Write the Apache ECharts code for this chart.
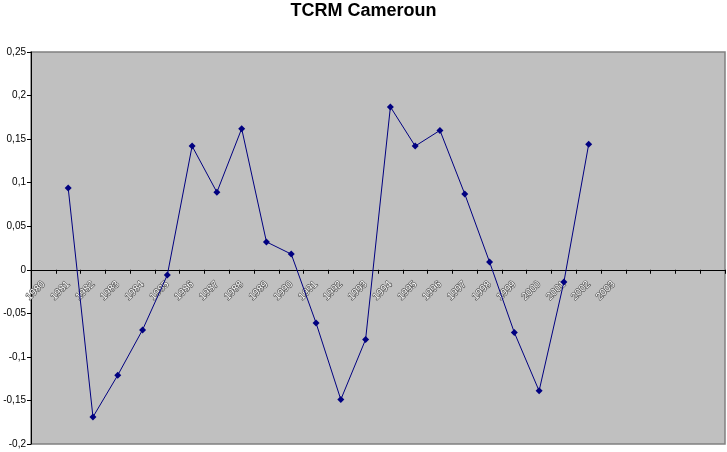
<!DOCTYPE html>
<html>
<head>
<meta charset="utf-8">
<script src="https://cdn.jsdelivr.net/npm/echarts@6/dist/echarts.min.js"></script>
<style>
html,body{margin:0;padding:0;background:#fff;}
#chart{width:727px;height:452px;}
</style>
</head>
<body>
<div id="chart"></div>
<script>
var categories = ['1980','1981','1982','1983','1984','1985','1986','1987','1988','1989','1990','1991','1992','1993','1994','1995','1996','1997','1998','1999','2000','2001','2002','2003','','','',''];
var tcrm = [null, 0.094, -0.169, -0.121, -0.069, -0.006, 0.142, 0.089, 0.162, 0.032, 0.018, -0.061, -0.149, -0.080, 0.187, 0.142, 0.160, 0.087, 0.009, -0.072, -0.139, -0.014, 0.144];
var yTicks = { min: -0.2, max: 0.25, interval: 0.05 };

var gridTop = 52, gridHeight = 392;
var zeroOffset = -gridHeight * (0 - yTicks.min) / (yTicks.max - yTicks.min);

var chart = echarts.init(document.getElementById('chart'));
chart.setOption({
  animation: false,
  backgroundColor: '#ffffff',
  title: {
    text: 'TCRM Cameroun',
    left: 'center',
    top: -3,
    textStyle: { fontFamily: 'Liberation Sans', fontWeight: 'bold', fontSize: 18, color: '#000' }
  },
  grid: {
    left: 31, top: gridTop, width: 694, height: gridHeight,
    show: true, backgroundColor: '#c0c0c0', borderColor: '#808080', borderWidth: 1.5,
    containLabel: false,
    outerBoundsMode: 'none'
  },
  xAxis: {
    type: 'category',
    data: categories,
    boundaryGap: true,
    position: 'bottom',
    offset: zeroOffset,
    axisLine: { onZero: false, lineStyle: { color: '#000', width: 1 } },
    axisTick: { show: true, interval: 0, length: 4, inside: false, lineStyle: { color: '#000' } },
    axisLabel: {
      interval: 0, rotate: 45, margin: 13,
      fontFamily: 'Liberation Sans', fontSize: 10,
      color: '#ffffff', textBorderColor: '#4a4a4a', textBorderWidth: 1.2
    },
    splitLine: { show: false }
  },
  yAxis: {
    type: 'value',
    min: yTicks.min, max: yTicks.max, interval: yTicks.interval,
    axisLine: { show: true, lineStyle: { color: '#000', width: 1 } },
    axisTick: { show: true, length: 4, lineStyle: { color: '#000' } },
    splitLine: { show: false },
    axisLabel: {
      margin: 5,
      fontFamily: 'Liberation Sans', fontSize: 10, color: '#000',
      formatter: function (v) { return String(+v.toFixed(2)).replace('.', ','); }
    }
  },
  series: [{
    type: 'line',
    data: tcrm,
    connectNulls: false,
    symbol: 'diamond',
    symbolSize: 7,
    itemStyle: { color: '#000080' },
    lineStyle: { color: '#000080', width: 1 }
  }]
});
</script>
</body>
</html>
